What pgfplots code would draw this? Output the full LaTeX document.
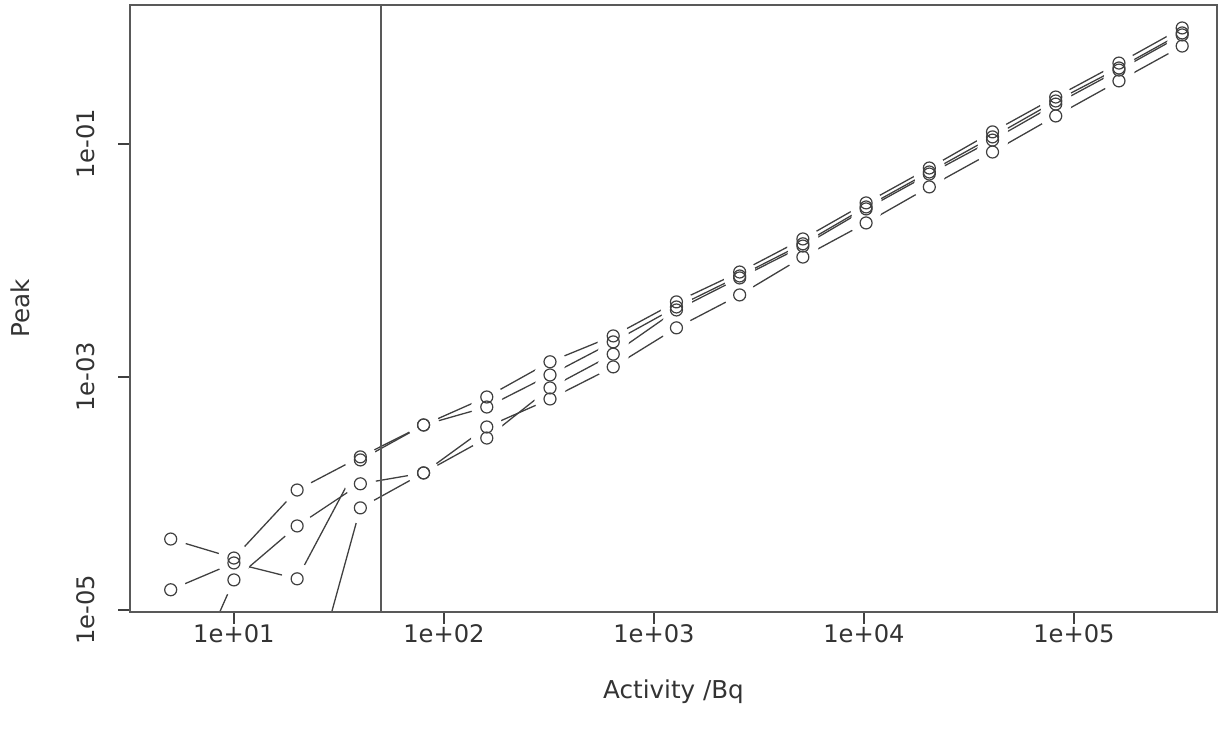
\documentclass[border=0pt]{standalone}
\usepackage{fontspec}
\setmainfont{DejaVu Sans}
\usepackage{pgfplots}
\pgfplotsset{compat=1.18}
\usepackage{pgfplotstable}

\pgfplotstableread{
x y
5 4.06e-5
10 2.79e-5
20 1.07e-4
40 2.06e-4
80 3.87e-4
160 6.73e-4
320 1.35e-3
640 2.25e-3
1280 4.41e-3
2560 7.96e-3
5120 1.53e-2
10240 3.12e-2
20480 6.22e-2
40960 0.127
81920 0.253
163840 0.495
327680 0.991
}\sA
\pgfplotstableread{
x y
5 1.49e-5
10 2.53e-5
20 1.85e-5
40 1.94e-4
80 3.87e-4
160 5.52e-4
320 1.04e-3
640 2.00e-3
1280 3.99e-3
2560 7.36e-3
5120 1.39e-2
10240 2.88e-2
20480 5.75e-2
40960 0.115
81920 0.234
163840 0.449
327680 0.898
}\sB
\pgfplotstableread{
x y
5 1.07e-6
10 1.81e-5
20 5.26e-5
40 1.21e-4
80 1.50e-4
160 3.72e-4
320 6.47e-4
640 1.22e-3
1280 2.64e-3
2560 5.06e-3
5120 1.07e-2
10240 2.10e-2
20480 4.28e-2
40960 0.0853
81920 0.174
163840 0.348
327680 0.693
}\sC
\pgfplotstableread{
x y
20 8.0e-7
40 7.52e-5
80 1.50e-4
160 2.99e-4
320 8.05e-4
640 1.57e-3
1280 3.76e-3
2560 7.08e-3
5120 1.33e-2
10240 2.77e-2
20480 5.52e-2
40960 0.108
81920 0.220
163840 0.431
327680 0.863
}\sD

\pgfplotsset{
  serline/.style={black!75, line width=0.65pt, mark=none},
  sergap/.style={only marks, mark=*, mark size=7.6pt, mark options={draw=white, fill=white}},
  serpt/.style={only marks, mark=o, mark size=3pt, mark options={draw=black!75, line width=0.6pt}},
}

\begin{document}
\begin{tikzpicture}
\begin{axis}[
  scale only axis, width=543.5pt, height=303.5pt,
  xmode=log, ymode=log,
  xmin=3.2, xmax=4.8e5, ymin=9.6e-6, ymax=1.56,
  axis on top,
  axis line style={black!65, line width=0.8pt},
  tick style={black!75, line width=0.6pt},
  tick align=outside, major tick length=6pt,
  xtick pos=left, ytick pos=left,
  xminorticks=false, yminorticks=false,
  xtick={10,100,1000,10000,100000},
  xticklabels={1e+01,1e+02,1e+03,1e+04,1e+05},
  ytick={1e-5,1e-3,1e-1},
  yticklabels={1e-05,1e-03,1e-01},
  tick label style={font=\fontsize{12.1}{14}\selectfont, text=black!80},
  xticklabel style={anchor=center},
  xticklabel shift=5pt,
  yticklabel style={rotate=90, anchor=center},
  yticklabel shift=16pt,
  every axis x label/.style={at={(axis description cs:0.5,-0.1318)}, anchor=center},
  every axis y label/.style={at={(axis description cs:-0.1012,0.5)}, rotate=90, anchor=center},
  label style={font=\fontsize{12.3}{14}\selectfont, text=black!80},
  xlabel={Activity /Bq}, ylabel={Peak},
]
% lines
\addplot[serline] table[x=x,y=y] {\sA};
\addplot[serline] table[x=x,y=y] {\sB};
\addplot[serline] table[x=x,y=y] {\sC};
\addplot[serline] table[x=x,y=y] {\sD};
% gaps around points (as R type="b")
\addplot[sergap] table[x=x,y=y] {\sA};
\addplot[sergap] table[x=x,y=y] {\sB};
\addplot[sergap] table[x=x,y=y] {\sC};
\addplot[sergap] table[x=x,y=y] {\sD};
% open circles
\addplot[serpt] table[x=x,y=y] {\sA};
\addplot[serpt] table[x=x,y=y] {\sB};
\addplot[serpt] table[x=x,y=y] {\sC};
\addplot[serpt] table[x=x,y=y] {\sD};
% vertical reference line at 50 Bq
\addplot[black!65, line width=0.9pt, mark=none] coordinates {(50,1e-7) (50,10)};
\end{axis}
\pgfresetboundingbox
\path[use as bounding box] ([xshift=-65pt,yshift=-65.5pt]current axis.south west) rectangle ([xshift=0.5pt,yshift=2.5pt]current axis.north east);
\end{tikzpicture}
\end{document}
